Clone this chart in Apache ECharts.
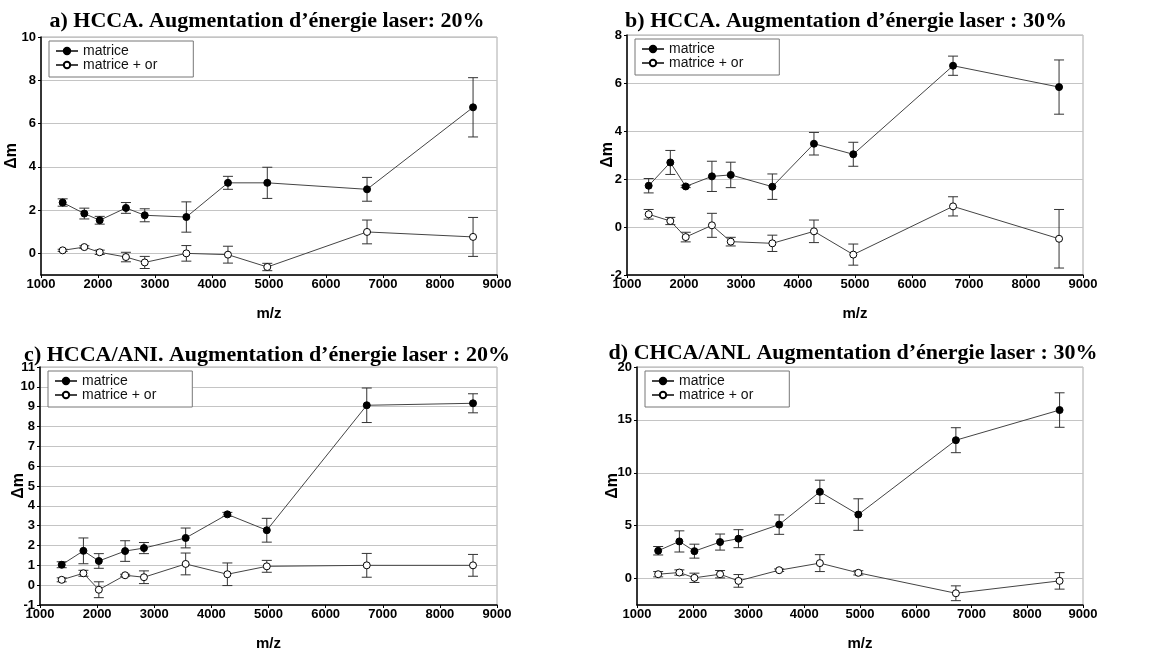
<!DOCTYPE html>
<html><head><meta charset="utf-8">
<script src="https://cdn.jsdelivr.net/npm/echarts@6/dist/echarts.min.js"></script>
<style>html,body{margin:0;padding:0;background:#fff}#c{width:1156px;height:653px}</style>
</head><body><div id="c"></div><script>
// m/z positions (shared by all panels)
const mz = [1380, 1760, 2030, 2490, 2820, 3550, 4280, 4970, 6720, 8580];
const xTicks = [1000, 2000, 3000, 4000, 5000, 6000, 7000, 8000, 9000];
const seriesNames = ['matrice', 'matrice + or'];

const titles = [
  'a) HCCA. Augmentation d\u2019énergie laser: 20%',
  'b) HCCA. Augmentation d\u2019énergie laser : 30%',
  'c) HCCA/ANI. Augmentation d\u2019énergie laser : 20%',
  'd) CHCA/ANL Augmentation d\u2019énergie laser : 30%'
];

// panel a
const a_mat = [2.35, 1.84, 1.53, 2.1, 1.76, 1.68, 3.26, 3.26, 2.96, 6.75];
const a_matErr = [0.17, 0.25, 0.18, 0.25, 0.3, 0.7, 0.3, 0.72, 0.55, 1.37];
const a_or = [0.14, 0.29, 0.05, -0.17, -0.42, 0.0, -0.06, -0.63, 0.99, 0.76];
const a_orErr = [0.05, 0.06, 0.1, 0.22, 0.28, 0.36, 0.39, 0.17, 0.55, 0.9];
// panel b
const b_mat = [1.72, 2.69, 1.69, 2.11, 2.17, 1.68, 3.47, 3.03, 6.72, 5.83];
const b_matErr = [0.3, 0.5, 0.05, 0.63, 0.53, 0.53, 0.47, 0.5, 0.4, 1.13];
const b_or = [0.53, 0.25, -0.42, 0.07, -0.61, -0.68, -0.18, -1.15, 0.86, -0.49];
const b_orErr = [0.2, 0.15, 0.2, 0.5, 0.18, 0.34, 0.47, 0.44, 0.4, 1.22];
// panel c
const c_mat = [1.03, 1.73, 1.22, 1.72, 1.87, 2.38, 3.57, 2.77, 9.07, 9.17];
const c_matErr = [0.15, 0.65, 0.37, 0.52, 0.28, 0.5, 0.1, 0.6, 0.87, 0.48];
const c_or = [0.27, 0.6, -0.23, 0.5, 0.4, 1.07, 0.55, 0.95, 1.0, 1.0];
const c_orErr = [0.1, 0.15, 0.4, 0.05, 0.32, 0.55, 0.57, 0.3, 0.6, 0.55];
// panel d
const d_mat = [2.63, 3.51, 2.59, 3.45, 3.77, 5.1, 8.2, 6.05, 13.08, 15.93];
const d_matErr = [0.4, 1.0, 0.66, 0.76, 0.85, 0.92, 1.1, 1.49, 1.18, 1.63];
const d_or = [0.41, 0.57, 0.07, 0.41, -0.22, 0.79, 1.46, 0.54, -1.39, -0.22];
const d_orErr = [0.25, 0.25, 0.44, 0.35, 0.6, 0.12, 0.8, 0.2, 0.7, 0.78];

const panels = [
  {mat: a_mat, matErr: a_matErr, or: a_or, orErr: a_orErr, ymin: -1, ymax: 10, split: 5, hideMin: true,
   grid: {left: 41, top: 37, width: 456, height: 238}, title: [267, 21], nameGap: 21},
  {mat: b_mat, matErr: b_matErr, or: b_or, orErr: b_orErr, ymin: -2, ymax: 8, interval: 2, hideMin: false,
   grid: {left: 627, top: 35, width: 456, height: 240}, title: [846, 21], nameGap: 11},
  {mat: c_mat, matErr: c_matErr, or: c_or, orErr: c_orErr, ymin: -1, ymax: 11, interval: 1, hideMin: false,
   grid: {left: 40, top: 367, width: 457, height: 238}, title: [267, 355], nameGap: 13},
  {mat: d_mat, matErr: d_matErr, or: d_or, orErr: d_orErr, ymin: -2.5, ymax: 20, split: 4, hideMin: true,
   grid: {left: 637, top: 367, width: 446, height: 238}, title: [853, 353], nameGap: 16}
];

const labelFont = {color: '#000', fontWeight: 'bold', fontSize: 13, fontFamily: 'Liberation Sans, Arial, sans-serif'};

function errRender(params, api) {
  const x = api.value(0), lo = api.value(1), hi = api.value(2);
  const p1 = api.coord([x, hi]), p2 = api.coord([x, lo]);
  const w = 5;
  const st = {stroke: '#333', lineWidth: 1};
  return {type: 'group', children: [
    {type: 'line', shape: {x1: p1[0], y1: p1[1], x2: p2[0], y2: p2[1]}, style: st},
    {type: 'line', shape: {x1: p1[0] - w, y1: p1[1], x2: p1[0] + w, y2: p1[1]}, style: st},
    {type: 'line', shape: {x1: p2[0] - w, y1: p2[1], x2: p2[0] + w, y2: p2[1]}, style: st}
  ]};
}

const option = {backgroundColor: '#fff', animation: false, grid: [], xAxis: [], yAxis: [], series: [], legend: [], graphic: []};

panels.forEach((p, i) => {
  option.grid.push(Object.assign({show: true, borderColor: '#aaa', borderWidth: 1, backgroundColor: '#fff'}, p.grid));
  option.xAxis.push({
    gridIndex: i, type: 'value', min: xTicks[0], max: xTicks[xTicks.length - 1], interval: 1000,
    name: 'm/z', nameLocation: 'middle', nameGap: 31, nameMoveOverlap: false,
    nameTextStyle: {color: '#000', fontWeight: 'bold', fontSize: 15, fontFamily: 'Liberation Sans, Arial, sans-serif'},
    axisLine: {show: true, onZero: false, lineStyle: {color: '#000', width: 1.5}},
    axisTick: {show: true, length: 3, lineStyle: {color: '#000'}},
    axisLabel: Object.assign({margin: 3, formatter: v => String(v)}, labelFont),
    splitLine: {show: false}
  });
  const y = {
    gridIndex: i, type: 'value', min: p.ymin, max: p.ymax,
    name: '\u0394m', nameLocation: 'middle', nameGap: p.nameGap, nameRotate: 90, nameMoveOverlap: false,
    nameTextStyle: {color: '#000', fontWeight: 'bold', fontSize: 16, fontFamily: 'Liberation Sans, Arial, sans-serif'},
    axisLine: {show: true, onZero: false, lineStyle: {color: '#000', width: 1.5}},
    axisTick: {show: true, length: 3, lineStyle: {color: '#000'}},
    axisLabel: Object.assign({margin: 5, showMinLabel: !p.hideMin, formatter: v => String(v)}, labelFont),
    splitLine: {show: true, lineStyle: {color: '#c4c4c4', width: 1}}
  };
  if (p.interval) y.interval = p.interval; else y.splitNumber = p.split;
  option.yAxis.push(y);

  const matData = mz.map((x, k) => [x, p.mat[k]]);
  const orData = mz.map((x, k) => [x, p.or[k]]);
  const matErrData = mz.map((x, k) => [x, p.mat[k] - p.matErr[k], p.mat[k] + p.matErr[k]]);
  const orErrData = mz.map((x, k) => [x, p.or[k] - p.orErr[k], p.or[k] + p.orErr[k]]);

  option.series.push(
    {type: 'custom', name: 'err-mat-' + i, xAxisIndex: i, yAxisIndex: i, data: matErrData,
     renderItem: errRender, encode: {x: 0, y: [1, 2]}, z: 1, silent: true},
    {type: 'custom', name: 'err-or-' + i, xAxisIndex: i, yAxisIndex: i, data: orErrData,
     renderItem: errRender, encode: {x: 0, y: [1, 2]}, z: 1, silent: true},
    {type: 'line', name: seriesNames[0], xAxisIndex: i, yAxisIndex: i, data: matData,
     symbol: 'circle', symbolSize: 7, showAllSymbol: true, z: 3,
     lineStyle: {color: '#444', width: 1}, itemStyle: {color: '#000', borderColor: '#000', borderWidth: 1}},
    {type: 'line', name: seriesNames[1], xAxisIndex: i, yAxisIndex: i, data: orData,
     symbol: 'circle', symbolSize: 7, showAllSymbol: true, z: 3,
     lineStyle: {color: '#444', width: 1}, itemStyle: {color: '#fff', borderColor: '#000', borderWidth: 1}}
  );

  option.legend.push({
    data: seriesNames, orient: 'vertical', left: p.grid.left + 8, top: p.grid.top + 4,
    padding: [3, 36, 5, 6], itemGap: 0, itemWidth: 22, itemHeight: 8,
    borderColor: '#777', borderWidth: 1, backgroundColor: '#fff',
    textStyle: {color: '#111', fontSize: 14, lineHeight: 12, fontFamily: 'Liberation Sans, Arial, sans-serif'},
    selectedMode: false
  });

  option.graphic.push({
    type: 'text', x: p.title[0], y: p.title[1], z: 10,
    style: {text: titles[i], textAlign: 'center', textVerticalAlign: 'middle',
            font: 'bold 22px "Liberation Serif", "Times New Roman", serif', fill: '#000'}
  });
});

const chart = echarts.init(document.getElementById('c'), null, {renderer: 'canvas'});
chart.setOption(option);
</script></body></html>
